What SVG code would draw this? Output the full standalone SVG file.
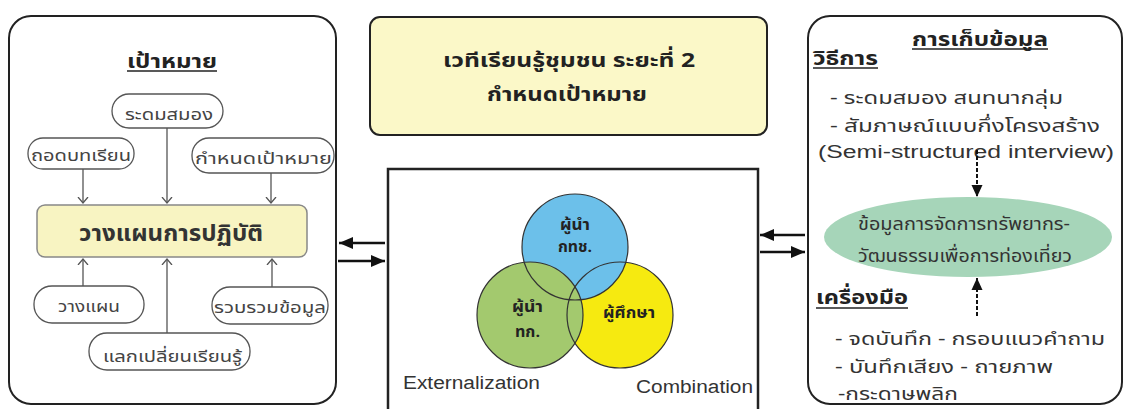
<svg xmlns="http://www.w3.org/2000/svg" width="1127" height="409" viewBox="0 0 1127 409">
<defs>
<marker id="open" markerUnits="userSpaceOnUse" markerWidth="12" markerHeight="12" refX="6" refY="6" orient="auto" viewBox="0 0 12 12">
<path d="M0,1 L6,6 L0,11" fill="none" stroke="#555" stroke-width="1.3"/>
</marker>
<marker id="solid" markerUnits="userSpaceOnUse" markerWidth="14" markerHeight="12" refX="14" refY="6" orient="auto" viewBox="0 0 14 12">
<path d="M0,0 L14,6 L0,12 z" fill="#111"/>
</marker>
<marker id="solidS" markerUnits="userSpaceOnUse" markerWidth="12" markerHeight="12" refX="12" refY="6" orient="auto" viewBox="0 0 12 12">
<path d="M0,0.5 L12,6 L0,11.5 z" fill="#111"/>
</marker>
</defs>
<style>
text{font-family:"Noto Sans Thai","Loma","Garuda","Liberation Sans","DejaVu Sans",sans-serif;fill:#333}
.pill{fill:#fff;stroke:#555;stroke-width:1.3}
.pt{font-size:16px;fill:#444}
.hd{font-size:20px;font-weight:bold;fill:#222}
.ul{stroke:#222;stroke-width:1.5}
.rt{font-size:18px;fill:#333}
.ct{font-size:15px;font-weight:bold;fill:#222}
.garr{stroke:#555;stroke-width:1.3;fill:none;marker-end:url(#open)}
.barr{stroke:#111;stroke-width:2.5;fill:none;marker-end:url(#solid)}
.darr{stroke:#111;stroke-width:2;stroke-dasharray:4 2;fill:none;marker-end:url(#solidS)}
.frame{fill:#fff;stroke:#222;stroke-width:2}
</style>
<rect width="1127" height="409" fill="#fff"/>

<g id="left-panel">
<rect class="frame" x="9" y="16" width="327" height="388" rx="22"/>
<text class="hd" x="127" y="68" textLength="90" lengthAdjust="spacingAndGlyphs">เป้าหมาย</text>
<line class="ul" x1="127" y1="71" x2="217" y2="71"/>
</g>
<g id="n-brainstorm">
<rect class="pill" x="112" y="94" width="111" height="34" rx="17"/>
<text class="pt" x="125" y="120" textLength="88" lengthAdjust="spacingAndGlyphs">ระดมสมอง</text>
</g>
<g id="n-lessons">
<rect class="pill" x="28" y="138" width="106" height="31" rx="15"/>
<text class="pt" x="31" y="161" textLength="100" lengthAdjust="spacingAndGlyphs">ถอดบทเรียน</text>
</g>
<g id="n-setgoal">
<rect class="pill" x="192" y="138" width="142" height="35" rx="17"/>
<text class="pt" x="195" y="164" textLength="137" lengthAdjust="spacingAndGlyphs">กำหนดเป้าหมาย</text>
</g>
<g id="n-actionplan">
<rect x="37" y="205" width="270" height="52" rx="8" fill="#f8f4c2" stroke="#888" stroke-width="1.5"/>
<text x="79" y="241" font-size="23" font-weight="bold" fill="#222" textLength="184" lengthAdjust="spacingAndGlyphs">วางแผนการปฏิบัติ</text>
</g>
<g id="n-plan">
<rect class="pill" x="34" y="286" width="110" height="37" rx="18"/>
<text class="pt" x="58" y="312" textLength="62" lengthAdjust="spacingAndGlyphs">วางแผน</text>
</g>
<g id="n-collect">
<rect class="pill" x="212" y="287" width="116" height="37" rx="18"/>
<text class="pt" x="214" y="313" textLength="112" lengthAdjust="spacingAndGlyphs">รวบรวมข้อมูล</text>
</g>
<g id="n-exchange">
<rect class="pill" x="89" y="333" width="161" height="37" rx="18"/>
<text class="pt" x="103" y="362" textLength="139" lengthAdjust="spacingAndGlyphs">แลกเปลี่ยนเรียนรู้</text>
</g>

<g id="n-title">
<rect x="370" y="17" width="397" height="118" rx="10" fill="#fbf8c8" stroke="#222" stroke-width="2"/>
<text class="hd" x="443" y="67" textLength="252" lengthAdjust="spacingAndGlyphs">เวทีเรียนรู้ชุมชน ระยะที่ 2</text>
<text class="hd" x="487" y="101" textLength="160" lengthAdjust="spacingAndGlyphs">กำหนดเป้าหมาย</text>
</g>

<g id="n-venn">
<rect x="388" y="169" width="370" height="260" fill="#fff" stroke="#222" stroke-width="2.5"/>
<circle cx="620" cy="315" r="53" fill="#f6ea10"/>
<circle cx="575" cy="247" r="53" fill="#6cc0ea"/>
<circle cx="530" cy="315" r="53" fill="#a3c96e"/>
<g fill="none" stroke="#333" stroke-width="1.2">
<circle cx="620" cy="315" r="53"/>
<circle cx="575" cy="247" r="53"/>
<circle cx="530" cy="315" r="53"/>
</g>
<text class="ct" x="560" y="230" textLength="30" lengthAdjust="spacingAndGlyphs">ผู้นำ</text>
<text class="ct" x="558" y="252" textLength="34" lengthAdjust="spacingAndGlyphs">กทช.</text>
<text class="ct" x="512" y="312" textLength="31" lengthAdjust="spacingAndGlyphs">ผู้นำ</text>
<text class="ct" x="515" y="337" textLength="25" lengthAdjust="spacingAndGlyphs">ทก.</text>
<text class="ct" x="603" y="318" textLength="52" lengthAdjust="spacingAndGlyphs">ผู้ศึกษา</text>
<text x="403" y="389" font-size="18" fill="#333" style="font-family:'Liberation Sans',Arial,sans-serif" textLength="137" lengthAdjust="spacingAndGlyphs">Externalization</text>
<text x="636" y="393" font-size="18" fill="#333" style="font-family:'Liberation Sans',Arial,sans-serif" textLength="117" lengthAdjust="spacingAndGlyphs">Combination</text>
</g>

<g id="right-panel">
<rect class="frame" x="808" y="16" width="314" height="388" rx="22"/>
<text class="hd" x="912" y="46" font-size="19" textLength="136" lengthAdjust="spacingAndGlyphs">การเก็บข้อมูล</text>
<line class="ul" x1="912" y1="49" x2="1048" y2="49"/>
<text class="hd" x="813" y="65" font-size="19" textLength="65" lengthAdjust="spacingAndGlyphs">วิธีการ</text>
<line class="ul" x1="813" y1="68" x2="878" y2="68"/>
<text class="rt" x="830" y="104" textLength="233" lengthAdjust="spacingAndGlyphs">- ระดมสมอง สนทนากลุ่ม</text>
<text class="rt" x="830" y="132" textLength="270" lengthAdjust="spacingAndGlyphs">- สัมภาษณ์แบบกึ่งโครงสร้าง</text>
<text class="rt" x="818" y="158" style="font-family:'Liberation Sans',Arial,sans-serif" textLength="296" lengthAdjust="spacingAndGlyphs">(Semi-structured interview)</text>
<text class="hd" x="816" y="304" font-size="19" textLength="92" lengthAdjust="spacingAndGlyphs">เครื่องมือ</text>
<line class="ul" x1="816" y1="308" x2="908" y2="308"/>
<text class="rt" x="835" y="345" textLength="270" lengthAdjust="spacingAndGlyphs">- จดบันทึก - กรอบแนวคำถาม</text>
<text class="rt" x="835" y="373" textLength="218" lengthAdjust="spacingAndGlyphs">- บันทึกเสียง  - ถายภาพ</text>
<text class="rt" x="838" y="400" textLength="120" lengthAdjust="spacingAndGlyphs">-กระดาษพลิก</text>
</g>
<g id="n-data">
<ellipse cx="968" cy="237" rx="144" ry="40" fill="#a6d5b9"/>
<text class="rt" x="858" y="230" textLength="212" lengthAdjust="spacingAndGlyphs">ข้อมูลการจัดการทรัพยากร-</text>
<text class="rt" x="858" y="262" textLength="214" lengthAdjust="spacingAndGlyphs">วัฒนธรรมเพื่อการท่องเที่ยว</text>
</g>

<g id="connectors">
<line class="garr" x1="83" y1="169" x2="83" y2="203"/>
<line class="garr" x1="167" y1="128" x2="167" y2="203"/>
<line class="garr" x1="271" y1="173" x2="271" y2="203"/>
<line class="garr" x1="83" y1="286" x2="83" y2="259"/>
<line class="garr" x1="167" y1="333" x2="167" y2="259"/>
<line class="garr" x1="272" y1="287" x2="272" y2="259"/>
<line class="barr" x1="385" y1="243" x2="339" y2="243"/>
<line class="barr" x1="338" y1="261" x2="385" y2="261"/>
<line class="barr" x1="805" y1="235" x2="760" y2="235"/>
<line class="barr" x1="760" y1="252" x2="805" y2="252"/>
<line class="darr" x1="977" y1="150" x2="977" y2="197"/>
<line class="darr" x1="977" y1="316" x2="977" y2="278"/>
</g>
</svg>
